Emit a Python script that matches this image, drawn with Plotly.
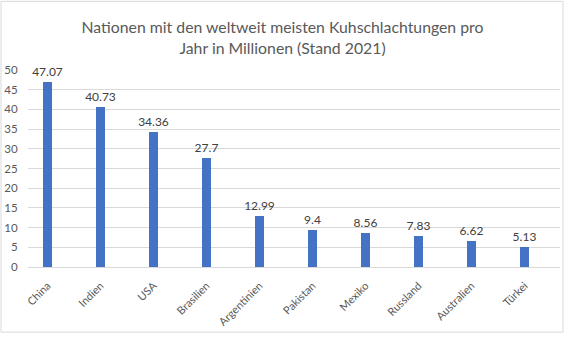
import plotly.graph_objects as go

countries = ["China", "Indien", "USA", "Brasilien", "Argentinien", "Pakistan",
             "Mexiko", "Russland", "Australien", "Türkei"]
values = [47.07, 40.73, 34.36, 27.7, 12.99, 9.4, 8.56, 7.83, 6.62, 5.13]
y_ticks = [0, 5, 10, 15, 20, 25, 30, 35, 40, 45, 50]

W, H = 565, 338
L, R = 28, 560
T, B = 69.5, 267.5
pw, ph = R - L, B - T

def px_x(p):
    return (p - L) / pw

def px_y(p):
    return (B - p) / ph

FONT = "Lato, Open Sans, sans-serif"

fig = go.Figure(go.Bar(
    x=countries, y=values,
    marker=dict(color="#4472C4", line=dict(width=0)),
    width=0.17,
    text=[str(v) for v in values],
    textposition="outside",
    constraintext="none",
    textfont=dict(family=FONT, size=12, color="#404040"),
    cliponaxis=False,
))

fig.update_layout(
    width=W, height=H,
    margin=dict(l=L, r=W - R, t=T, b=H - B),
    paper_bgcolor="white", plot_bgcolor="white",
    showlegend=False,
    title=dict(
        text="Nationen mit den weltweit meisten Kuhschlachtungen pro<br>Jahr in Millionen (Stand 2021)",
        x=0.5, xanchor="center", y=1 - 33 / H, yanchor="middle",
        font=dict(family=FONT, size=15.8, color="#595959"),
    ),
    font=dict(family=FONT, size=11, color="#595959"),
    bargap=0,
)

fig.update_xaxes(
    range=[-0.37, 9.67], tickangle=-45, showgrid=False,
    showline=True, linecolor="#d9d9d9", linewidth=1,
    tickfont=dict(family=FONT, size=11, color="#595959"),
    ticks="outside", ticklen=7, tickcolor="rgba(0,0,0,0)",
)
fig.update_yaxes(
    range=[0, 50], tickvals=y_ticks, showgrid=True, gridcolor="#d9d9d9",
    gridwidth=1, zeroline=False, showline=False,
    ticks="outside", ticklen=7, tickcolor="rgba(0,0,0,0)",
    tickfont=dict(family=FONT, size=11.5, color="#595959"),
)

fig.add_shape(type="rect", xref="paper", yref="paper",
              x0=px_x(1), x1=px_x(563), y0=px_y(333), y1=px_y(0.5),
              line=dict(color="#d9d9d9", width=1), fillcolor="rgba(0,0,0,0)",
              layer="below")

fig.write_html("out.html")
